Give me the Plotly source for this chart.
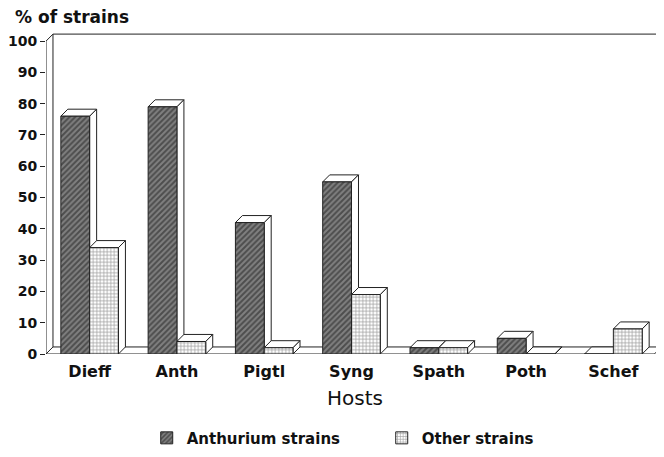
import plotly.graph_objects as go

categories = ["Dieff", "Anth", "Pigtl", "Syng", "Spath", "Poth", "Schef"]
anthurium = [76, 79, 42, 55, 2, 5, 0]
other = [34, 4, 2, 19, 2, 0, 8]
y_ticks = [0, 10, 20, 30, 40, 50, 60, 70, 80, 90, 100]

BAR_W = 0.33
DX = 0.08      # depth offset in category units
DY = 2.25      # depth offset in value units
X_LEFT = -0.5
X_RIGHT = 6.47
X_END = 6.58
Y_TOP = 102.6

xs = list(range(len(categories)))
FONT = "DejaVu Sans"
LINE = dict(color="#222", width=1)

fig = go.Figure()
fig.add_trace(go.Bar(
    x=xs, y=anthurium, name="Anthurium strains", width=BAR_W, offset=-BAR_W,
    marker=dict(color="#6a6a6a", line=dict(color="#222", width=1),
                pattern=dict(shape="/", fgcolor="#1a1a1a", bgcolor="#808080", size=4, solidity=0.5)),
))
fig.add_trace(go.Bar(
    x=xs, y=other, name="Other strains", width=BAR_W, offset=0,
    marker=dict(color="white", line=dict(color="#222", width=1),
                pattern=dict(shape="+", fgcolor="#444", bgcolor="white", size=3.5, solidity=0.4)),
))

shapes = []
# walls and floor
shapes.append(dict(type="line", x0=X_LEFT, y0=0, x1=X_RIGHT, y1=0))
shapes.append(dict(type="line", x0=X_LEFT + DX, y0=DY, x1=X_RIGHT + DX, y1=DY))
shapes.append(dict(type="line", x0=X_RIGHT, y0=0, x1=X_RIGHT + DX, y1=DY))
shapes.append(dict(type="line", x0=X_LEFT, y0=0, x1=X_LEFT + DX, y1=DY))
shapes.append(dict(type="line", x0=X_LEFT, y0=0, x1=X_LEFT, y1=100))
shapes.append(dict(type="line", x0=X_LEFT + DX, y0=DY, x1=X_LEFT + DX, y1=100 + DY))
shapes.append(dict(type="line", x0=X_LEFT, y0=100, x1=X_LEFT + DX, y1=100 + DY))
shapes.append(dict(type="line", x0=X_LEFT + DX, y0=100 + DY, x1=X_END, y1=100 + DY))
for s in shapes:
    s.update(xref="x", yref="y", layer="below", line=LINE)


def faces(x0, x1, v):
    top = f"M{x0},{v} L{x1},{v} L{x1 + DX},{v + DY} L{x0 + DX},{v + DY} Z"
    side = f"M{x1},0 L{x1 + DX},{DY} L{x1 + DX},{v + DY} L{x1},{v} Z"
    return [
        dict(type="path", path=top, xref="x", yref="y", layer="below",
             fillcolor="white", line=LINE),
        dict(type="path", path=side, xref="x", yref="y", layer="below",
             fillcolor="white", line=LINE),
    ]


for i, (a, o) in enumerate(zip(anthurium, other)):
    shapes += faces(i - BAR_W, i, a)
    shapes += faces(i, i + BAR_W, o)

fig.update_layout(
    width=656, height=449,
    margin=dict(l=38, r=0, t=25, b=103, autoexpand=False),
    paper_bgcolor="white", plot_bgcolor="white",
    barmode="overlay",
    shapes=shapes,
    showlegend=True,
    legend=dict(orientation="h", x=0.163, xanchor="left", y=-0.262, yanchor="middle",
                font=dict(family=FONT, size=15, color="#111", weight="bold"),
                entrywidth=190, itemwidth=30),
    xaxis=dict(range=[X_LEFT, X_END], tickmode="array", tickvals=xs, ticktext=categories,
               showgrid=False, zeroline=False, showline=False, ticks="", automargin=False,
               ticklabelstandoff=6,
               tickfont=dict(family=FONT, size=16, color="#111", weight="bold"),
               title=dict(text="Hosts", font=dict(family=FONT, size=20, color="#111"), standoff=10)),
    yaxis=dict(range=[0, Y_TOP], tickmode="array", tickvals=y_ticks, automargin=False,
               showgrid=False, zeroline=False, showline=False,
               ticks="outside", ticklen=5, tickcolor="#222", tickwidth=1,
               tickfont=dict(family=FONT, size=14, color="#111", weight="bold")),
    annotations=[dict(text="% of strains", xref="paper", yref="paper", x=-0.053, y=1.05,
                      xanchor="left", yanchor="middle", showarrow=False,
                      font=dict(family=FONT, size=17, color="#111", weight="bold"))],
)

fig.write_html("out.html")
